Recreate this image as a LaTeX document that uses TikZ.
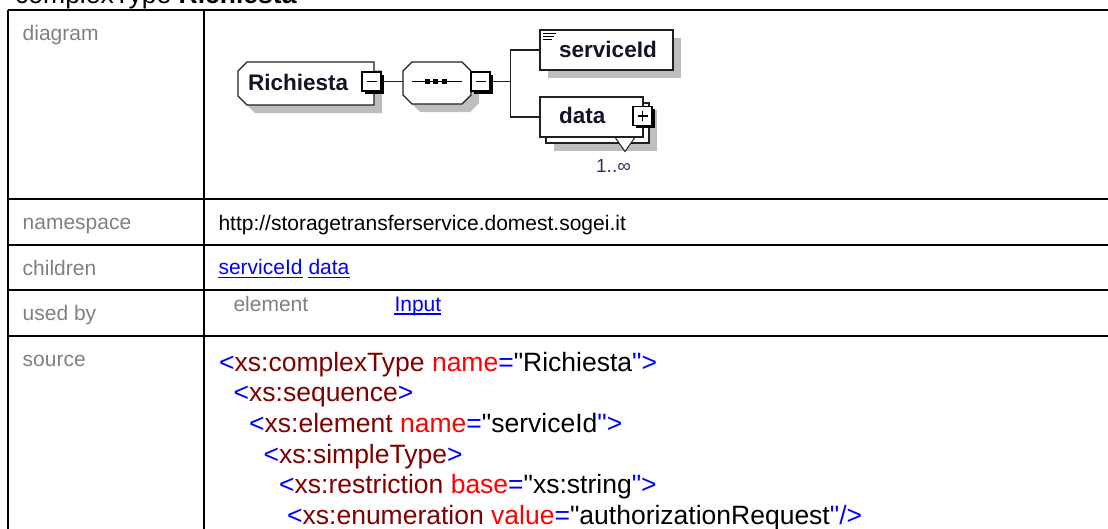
\documentclass[tikz,border=0pt]{standalone}
\usepackage{fontspec}
\setmainfont{Liberation Sans}[Ligatures=TeXOff]
\usetikzlibrary{calc,shadows}

\definecolor{lbl}{HTML}{808080}
\definecolor{lnk}{HTML}{0000FF}
\definecolor{kw}{HTML}{0000FF}
\definecolor{tag}{HTML}{800000}
\definecolor{att}{HTML}{FF0000}
\definecolor{shadowgray}{HTML}{BEBEBE}
\definecolor{ink}{HTML}{141428}
\definecolor{occ}{HTML}{3C2C5C}
\definecolor{edge}{HTML}{202020}

\newcommand\Kw[1]{\textcolor{kw}{#1}}
\newcommand\Tg[1]{\textcolor{tag}{#1}}
\newcommand\At[1]{\textcolor{att}{#1}}

\begin{document}
\begin{tikzpicture}[x=1pt,y=-1pt,
  gridline/.style={line width=2.4pt, black},
  rowlabel/.style={anchor=base west, inner sep=0, text=lbl, font=\fontsize{21}{25}\selectfont},
  celltext/.style={anchor=base west, inner sep=0, font=\fontsize{21}{25}\selectfont},
  linktext/.style={celltext, text=lnk},
  ulink/.style={lnk, line width=1.3pt},
  codeline/.style={anchor=base west, inner sep=0, font=\fontsize{26.5}{30}\selectfont},
  elname/.style={anchor=base west, inner sep=0, text=ink, font=\bfseries\fontsize{22.5}{26}\selectfont},
  boxshadow/.style={general shadow={fill=shadowgray, shadow xshift=8pt, shadow yshift=-8pt}},
  outline/.style={draw=edge, line width=1.3pt, fill=white},
  frame/.style={rectangle, inner sep=0, draw=none},
  elbox/.style={outline, boxshadow, rectangle, inner sep=0},
  toggle/.style={rectangle, draw=black, line width=1.2pt, fill=white, minimum size=19pt, inner sep=0,
    general shadow={fill=black, shadow xshift=2.5pt, shadow yshift=-2.5pt}},
  wire/.style={edge, line width=1.3pt},
]
\useasboundingbox (0,0) rectangle (1108,528);

% heading above the table
\node[anchor=base west, inner sep=0, font=\fontsize{26.5}{30}\selectfont] (title) at (15,3.5)
  {complexType \textbf{Richiesta}};

% table rules
\draw[gridline] (8,10) -- (1112,10);
\draw[gridline] (8,199) -- (1112,199);
\draw[gridline] (8,245) -- (1112,245);
\draw[gridline] (8,290) -- (1112,290);
\draw[gridline] (8,336) -- (1112,336);
\draw[gridline] (8,10) -- (8,532);
\draw[gridline] (204,10) -- (204,532);

% row labels
\node[rowlabel] (ldiagram) at (22.5,40) {diagram};
\node[rowlabel] (lns) at (22.5,229.3) {namespace};
\node[rowlabel] (lchildren) at (22.5,275) {children};
\node[rowlabel] (lused) at (22.5,320) {used by};
\node[rowlabel] (lsource) at (22.5,366) {source};

% cell contents
\node[celltext] (ns) at (218.3,230) {http://storagetransferservice.domest.sogei.it};
\node[linktext] (csid) at (218.3,274.7) {serviceId};
\node[linktext] (cdata) at (308.3,274.7) {data};
\draw[ulink] ([yshift=-2.8pt]csid.base west) -- ([yshift=-2.8pt]csid.base east);
\draw[ulink] ([yshift=-2.8pt]cdata.base west) -- ([yshift=-2.8pt]cdata.base east);
\node[celltext, text=lbl] (uelem) at (233.3,311) {element};
\node[linktext] (uinput) at (394.3,311) {Input};
\draw[ulink] ([yshift=-3pt]uinput.base west) -- ([yshift=-3pt]uinput.base east);

% schema source
\node[codeline] (src1) at (219,371)
  {\Kw{<}\Tg{xs:complexType} \At{name}\Kw{=}"Richiesta\Kw{">}};
\node[codeline] (src2) at (233.5,401.7) {\Kw{<}\Tg{xs:sequence}\Kw{>}};
\node[codeline] (src3) at (249,432.4)
  {\Kw{<}\Tg{xs:element} \At{name}\Kw{=}"serviceId\Kw{">}};
\node[codeline] (src4) at (263.5,463) {\Kw{<}\Tg{xs:simpleType}\Kw{>}};
\node[codeline] (src5) at (279,493.5)
  {\Kw{<}\Tg{xs:restriction} \At{base}\Kw{=}"xs:string\Kw{">}};
\node[codeline] (src6) at (287,524)
  {\Kw{<}\Tg{xs:enumeration} \At{value}\Kw{=}"authorizationRequest\Kw{"/>}};

% ---- content model diagram ----
% complex type box, cut on its left corners
\node[frame, minimum width=136pt, minimum height=43pt] (rich) at (306,83.5) {};
\fill[shadowgray] (255,70) -- (382,70) -- (382,113) -- (255,113) -- (246,104) -- (246,79) -- cycle;
\draw[outline] (247,62) -- (374,62) -- (374,105) -- (247,105) -- (238,96) -- (238,71) -- cycle;
\node[elname] (richname) at (248,90) {Richiesta};
\node[toggle] (richtog) at (371.5,81.5) {};
\draw[line width=1.2pt] ([xshift=-5pt]richtog.center) -- ([xshift=5pt]richtog.center);

% sequence compositor
\node[frame, minimum width=68pt, minimum height=42pt] (seq) at (437,83) {};
\fill[shadowgray] (420,70) -- (470,70) -- (479,79) -- (479,103) -- (470,112) -- (420,112) -- (411,103) -- (411,79) -- cycle;
\draw[outline] (412,62) -- (462,62) -- (471,71) -- (471,95) -- (462,104) -- (412,104) -- (403,95) -- (403,71) -- cycle;
\coordinate (seqL) at (412,81.7);
\coordinate (seqR) at (462,81.7);
\draw[line width=1.2pt] (seqL) -- (seqR);
\foreach \sx in {427,435.5,444} \fill (\sx-2.5,79.2) rectangle (\sx+2.5,84.2);
\node[toggle] (seqtog) at (480.5,81.5) {};
\draw[line width=1.2pt] ([xshift=-5pt]seqtog.center) -- ([xshift=5pt]seqtog.center);

% serviceId element
\node[elbox, minimum width=133pt, minimum height=40pt] (sid) at (606.5,50) {};
\draw[line width=0.9pt] (543,33.5) -- (556,33.5) (543,36.5) -- (554,36.5) (543,39.5) -- (552,39.5);
\node[elname] (sidname) at (559,57) {serviceId};

% data element, repeated
\fill[shadowgray] (554,110) rectangle (657,151);
\draw[outline] (546,103) rectangle (649,143);
\node[outline, rectangle, inner sep=0, minimum width=103pt, minimum height=40pt] (dat) at (591.5,117) {};
\node[elname] (datname) at (559,123.5) {data};
\node[toggle] (dattog) at (642.5,116) {};
\draw[line width=1.2pt] ([xshift=-5pt]dattog.center) -- ([xshift=5pt]dattog.center)
  ([yshift=-5pt]dattog.center) -- ([yshift=5pt]dattog.center);
\fill[white] (615.5,138.3) -- (634.5,138.3) -- (625,151.5) -- cycle;
\draw[edge, line width=1pt] (615.5,138) -- (625,151.5) -- (634.5,138);
\node[anchor=base, inner sep=0, text=occ, font=\fontsize{19}{22}\selectfont] (occurs) at (613.5,172) {1..∞};

% connectors
\coordinate (fork) at (510.7,81.7);
\draw[wire] (richtog.east |- 0,81.7) -- (seq.west |- 0,81.7);
\draw[wire] (seqtog.east |- 0,81.7) -- (fork);
\draw[wire] (fork) |- (sid.west);
\draw[wire] (fork) |- (dat.west);
\end{tikzpicture}
\end{document}
